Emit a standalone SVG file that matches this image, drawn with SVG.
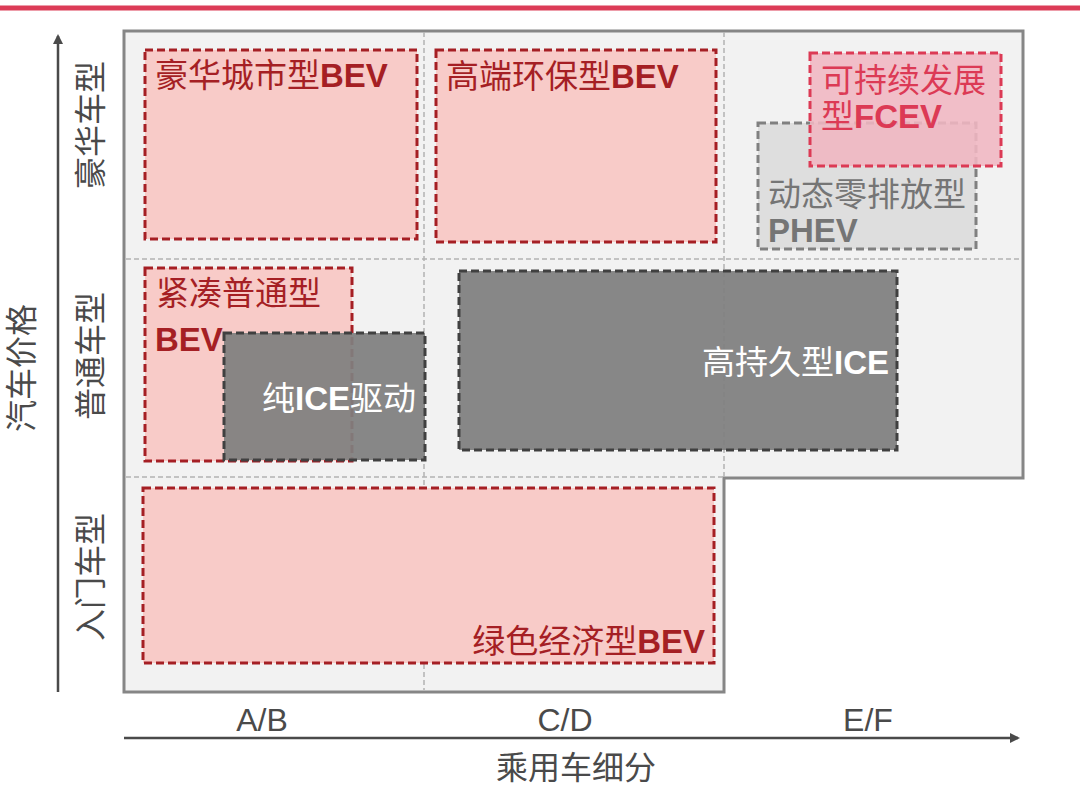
<svg xmlns="http://www.w3.org/2000/svg" width="1080" height="796" viewBox="0 0 1080 796">
<style>
text{font-family:"Liberation Sans","Noto Sans CJK SC",sans-serif;font-size:32px}
.n{font-size:33px}
.b{font-weight:bold}
.ax{fill:#4a4a4a}
.red{fill:#f8cbc8;stroke:#a51f24;stroke-width:3;stroke-dasharray:8 4}
.redt{fill:#a51f24}
.dark{fill:#7f7f7f;fill-opacity:0.93;stroke:#404040;stroke-width:3;stroke-dasharray:8 4}
.wt{fill:#ffffff}
.grid{stroke:#b3b3b3;stroke-width:1.5;stroke-dasharray:5 3;fill:none}
</style>
<defs>
<marker id="arr" viewBox="0 0 10 10" refX="8" refY="5" markerWidth="4" markerHeight="4" orient="auto" markerUnits="strokeWidth">
<path d="M0,0 L10,5 L0,10 z" fill="#4a4a4a"/>
</marker>
</defs>
<rect x="0" y="0" width="1080" height="796" fill="#ffffff"/>
<line x1="0" y1="8" x2="1080" y2="8" stroke="#dc3c57" stroke-width="5"/>
<g id="background">
<path d="M124,31 H1023 V478 H724 V692 H124 Z" fill="#f2f2f2" stroke="#868686" stroke-width="3"/>
<line class="grid" x1="424" y1="32" x2="424" y2="690"/>
<line class="grid" x1="724" y1="32" x2="724" y2="477"/>
<line class="grid" x1="126" y1="259" x2="1021" y2="259"/>
<line class="grid" x1="126" y1="477" x2="723" y2="477"/>
</g>
<g id="connectors">
<line x1="58" y1="692" x2="58" y2="36" stroke="#4a4a4a" stroke-width="2.5" marker-end="url(#arr)"/>
<line x1="124" y1="738" x2="1018" y2="738" stroke="#4a4a4a" stroke-width="2.5" marker-end="url(#arr)"/>
</g>
<g id="axis-labels">
<text class="ax" transform="translate(91,125) rotate(-90)" text-anchor="middle" dominant-baseline="central">豪华车型</text>
<text class="ax" transform="translate(91,356) rotate(-90)" text-anchor="middle" dominant-baseline="central">普通车型</text>
<text class="ax" transform="translate(91,577) rotate(-90)" text-anchor="middle" dominant-baseline="central">入门车型</text>
<text class="ax" transform="translate(22,368) rotate(-90)" text-anchor="middle" dominant-baseline="central">汽车价格</text>
<text class="ax" x="262" y="731" text-anchor="middle" font-size="31">A/B</text>
<text class="ax" x="565" y="731" text-anchor="middle" font-size="31">C/D</text>
<text class="ax" x="868" y="731" text-anchor="middle" font-size="31">E/F</text>
<text class="ax" x="576" y="779" text-anchor="middle">乘用车细分</text>
</g>
<g id="node-luxury-city-bev">
<rect class="red" x="145" y="50" width="272" height="189"/>
<text class="redt n" x="155" y="87">豪华城市型<tspan class="b">BEV</tspan></text>
</g>
<g id="node-premium-eco-bev">
<rect class="red" x="436" y="50" width="280" height="192"/>
<text class="redt n" x="446" y="88">高端环保型<tspan class="b">BEV</tspan></text>
</g>
<g id="node-dynamic-phev">
<rect x="758" y="123" width="218" height="126" fill="#dedede" stroke="#808080" stroke-width="3" stroke-dasharray="8 4"/>
<text class="n" x="768" y="206" fill="#757575">动态零排放型</text>
<text class="n b" x="768" y="242" fill="#757575">PHEV</text>
</g>
<g id="node-sustainable-fcev">
<rect x="810" y="53" width="191" height="113" fill="#f0b6c1" fill-opacity="0.88" stroke="#dc3a55" stroke-width="3" stroke-dasharray="8 4"/>
<text class="n" x="821" y="92" fill="#dc3a55">可持续发展</text>
<text class="n" x="821" y="128" fill="#dc3a55">型<tspan class="b">FCEV</tspan></text>
</g>
<g id="node-compact-bev">
<rect class="red" x="145" y="268" width="207" height="193"/>
<text class="redt n" x="156" y="305">紧凑普通型</text>
<text class="redt n b" x="155" y="351">BEV</text>
</g>
<g id="node-pure-ice">
<rect class="dark" x="224" y="333" width="201" height="127"/>
<text class="wt n" x="262" y="410">纯<tspan class="b">ICE</tspan>驱动</text>
</g>
<g id="node-durable-ice">
<rect class="dark" x="459" y="271" width="438" height="179"/>
<text class="wt n" x="889" y="374" text-anchor="end">高持久型<tspan class="b">ICE</tspan></text>
</g>
<g id="node-green-economy-bev">
<rect class="red" x="143" y="488" width="571" height="175"/>
<text class="redt n" x="705" y="653" text-anchor="end">绿色经济型<tspan class="b">BEV</tspan></text>
</g>
</svg>
